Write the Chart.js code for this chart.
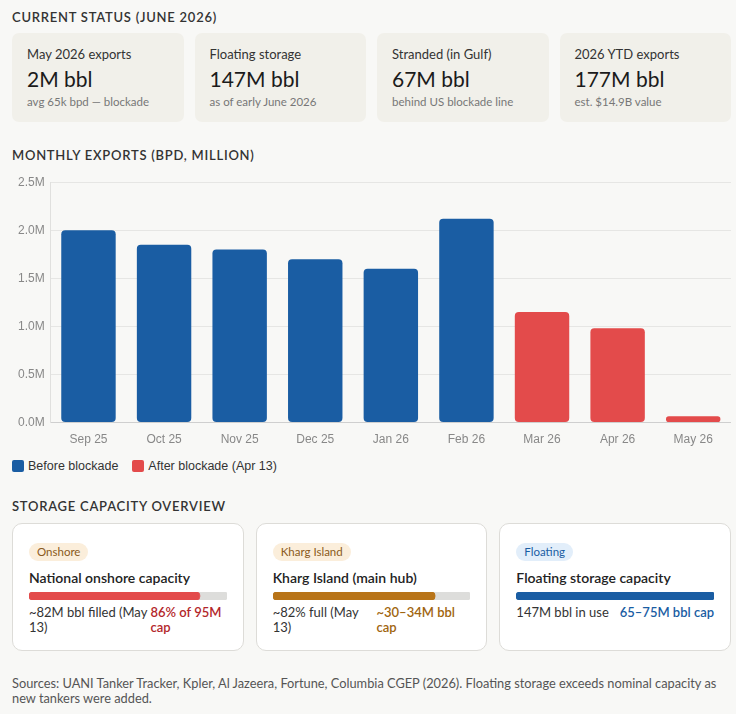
<!DOCTYPE html>
<html>
<head>
<meta charset="utf-8">
<script src="https://cdn.jsdelivr.net/npm/chart.js@4.4.1/dist/chart.umd.min.js"></script>
<style>
  body { margin: 0; background: #f8f8f6; font-family: Lato, "Noto Sans", sans-serif; color: #222; }
  .wrap { width: 719px; padding-left: 12px; }
  h2 { margin: 0; font-size: 13px; line-height: 16px; font-weight: 600; letter-spacing: 0.75px; color: #333; }
  .stats { display: flex; gap: 11px; margin-top: 8px; }
  .stat { flex: 1 1 0; min-width: 0; background: #f1f0ea; border-radius: 7px; padding: 13px 15px; height: 63px; }
  .stat .lbl { font-size: 13px; line-height: 16px; color: #333; }
  .stat .val { font-size: 21px; line-height: 26px; margin-top: 4px; color: #1b1b1b; }
  .stat .sub { font-size: 11.5px; line-height: 14px; margin-top: 3px; color: #777; }
  .chartbox { position: relative; height: 280px; margin-top: 6px; }
  .legend { display: flex; gap: 14px; margin-top: 9px; font-family: "Liberation Sans", Arial, sans-serif; font-size: 12.5px; line-height: 16px; color: #333; }
  .legend span { display: inline-flex; align-items: center; }
  .legend i { display: inline-block; width: 12px; height: 12px; border-radius: 2px; margin-right: 4px; }
  .cards { display: flex; gap: 12px; margin-top: 9px; }
  .card { flex: 1 1 0; min-width: 0; background: #fff; border: 1px solid #dddcd8; border-radius: 10px; padding: 16px 16px 0 16px; height: 110px; }
  .badge { display: inline-block; font-size: 11.5px; line-height: 18px; padding: 0 8px; border-radius: 9px; }
  .title { font-size: 14px; line-height: 18px; margin-top: 8px; font-weight: 600; color: #222; }
  .barbox { position: relative; height: 8px; margin-top: 5px; }
  .row { display: flex; justify-content: space-between; gap: 3px; margin-top: 5px; font-size: 13px; line-height: 15px; color: #333; }
  .row span { flex: 0 0.8 auto; }
  .row b { flex: 0 1 auto; font-weight: 600; }
  .src { margin-top: 25px; font-size: 12.8px; line-height: 15px; color: #555; padding-right: 4px; }
</style>
</head>
<body>
<div class="wrap">
  <h2 style="margin-top:9px">CURRENT STATUS (JUNE 2026)</h2>
  <div class="stats" id="stats"></div>

  <h2 style="margin-top:25px">MONTHLY EXPORTS (BPD, MILLION)</h2>
  <div class="chartbox"><canvas id="exportsChart"></canvas></div>
  <div class="legend">
    <span><i style="background:#1a5da3"></i>Before blockade</span>
    <span><i style="background:#e34b4b"></i>After blockade (Apr 13)</span>
  </div>

  <h2 style="margin-top:24px">STORAGE CAPACITY OVERVIEW</h2>
  <div class="cards" id="cards"></div>

  <div class="src">Sources: UANI Tanker Tracker, Kpler, Al Jazeera, Fortune, Columbia CGEP (2026). Floating storage exceeds nominal capacity as new tankers were added.</div>
</div>

<script>
// status cards
var statLabels = ['May 2026 exports', 'Floating storage', 'Stranded (in Gulf)', '2026 YTD exports'];
var statValues = ['2M bbl', '147M bbl', '67M bbl', '177M bbl'];
var statNotes = ['avg 65k bpd \u2014 blockade', 'as of early June 2026', 'behind US blockade line', 'est. $14.9B value'];

// monthly exports, million bpd
var months = ['Sep 25', 'Oct 25', 'Nov 25', 'Dec 25', 'Jan 26', 'Feb 26', 'Mar 26', 'Apr 26', 'May 26'];
var exportsBpd = [2.0, 1.85, 1.8, 1.7, 1.6, 2.12, 1.15, 0.98, 0.065];
var afterBlockade = [false, false, false, false, false, false, true, true, true];

// storage
var storeBadges = ['Onshore', 'Kharg Island', 'Floating'];
var storeTitles = ['National onshore capacity', 'Kharg Island (main hub)', 'Floating storage capacity'];
var storeFillPct = [86, 82, 100];
var storeLeft = ['~82M bbl filled (May 13)', '~82% full (May 13)', '147M bbl in use'];
var storeRight = ['86% of 95M cap', '~30\u201334M bbl cap', '65\u201375M bbl cap'];

var blue = '#1a5da3', red = '#e34b4b', amber = '#b87418';
var storeColors = [red, amber, blue];
var storeTextColors = ['#b3272b', '#a0650f', '#1a5da3'];
var badgeBg = ['#fbeedb', '#fbeedb', '#e2eefa'];
var badgeFg = ['#8a5a20', '#8a5a20', '#1a5da3'];

var html = '';
for (var i = 0; i < statLabels.length; i++) {
    html += '<div class="stat"><div class="lbl">' + statLabels[i] + '</div><div class="val">' + statValues[i] +
        '</div><div class="sub">' + statNotes[i] + '</div></div>';
}
document.getElementById('stats').innerHTML = html;

html = '';
for (var j = 0; j < storeBadges.length; j++) {
    html += '<div class="card"><span class="badge" style="background:' + badgeBg[j] + ';color:' + badgeFg[j] + '">' + storeBadges[j] +
        '</span><div class="title">' + storeTitles[j] + '</div><div class="barbox"><canvas id="bar' + j + '"></canvas></div>' +
        '<div class="row"><span>' + storeLeft[j] + '</span><b style="color:' + storeTextColors[j] + '">' + storeRight[j] + '</b></div></div>';
}
document.getElementById('cards').innerHTML = html;

Chart.defaults.animation = false;
Chart.defaults.font.family = '"Liberation Sans", Arial, sans-serif';

// Exports Chart
var ctxExp = document.getElementById('exportsChart').getContext('2d');
var exportsChart = new Chart(ctxExp, {
    type: 'bar',
    data: {
        labels: months,
        datasets: [{
            label: 'Exports',
            data: exportsBpd,
            backgroundColor: afterBlockade.map(function (a) { return a ? red : blue; }),
            borderRadius: 4,
            borderSkipped: false
        }]
    },
    options: {
        responsive: true,
        maintainAspectRatio: false,
        layout: { padding: { top: 1, right: 0 } },
        plugins: { legend: { display: false }, tooltip: { enabled: false } },
        scales: {
            x: {
                grid: { display: false },
                border: { color: '#cfcfcf' },
                ticks: { color: '#888', font: { size: 12 }, padding: 2 }
            },
            y: {
                min: 0,
                max: 2.5,
                ticks: {
                    stepSize: 0.5,
                    color: '#888',
                    font: { size: 12 },
                    padding: 6,
                    callback: function (v) { return v.toFixed(1) + 'M'; }
                },
                grid: { color: '#e6e6e4', drawTicks: false },
                border: { color: '#e0e0de' }
            }
        }
    }
});

// storage progress bars
for (var k = 0; k < storeFillPct.length; k++) {
    new Chart(document.getElementById('bar' + k).getContext('2d'), {
        type: 'bar',
        data: {
            labels: [storeTitles[k]],
            datasets: [
                { data: [storeFillPct[k]], backgroundColor: storeColors[k], borderRadius: 4, borderSkipped: false, order: 1 },
                { data: [100], backgroundColor: '#dddddb', borderRadius: 4, borderSkipped: false, order: 2 }
            ]
        },
        options: {
            indexAxis: 'y',
            responsive: true,
            maintainAspectRatio: false,
            datasets: { bar: { grouped: false, barPercentage: 1, categoryPercentage: 1 } },
            plugins: { legend: { display: false }, tooltip: { enabled: false } },
            scales: {
                x: { display: false, min: 0, max: 100 },
                y: { display: false }
            }
        }
    });
}
</script>
</body>
</html>
